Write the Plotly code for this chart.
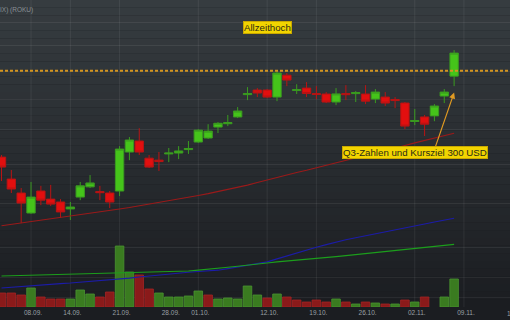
import numpy as np
import pandas as pd
import plotly.graph_objects as go

# ---------------- data ----------------
dates = ["2020-09-02", "2020-09-03", "2020-09-04", "2020-09-08", "2020-09-09", "2020-09-10",
         "2020-09-11", "2020-09-14", "2020-09-15", "2020-09-16", "2020-09-17", "2020-09-18",
         "2020-09-21", "2020-09-22", "2020-09-23", "2020-09-24", "2020-09-25", "2020-09-28",
         "2020-09-29", "2020-09-30", "2020-10-01", "2020-10-02", "2020-10-05", "2020-10-06",
         "2020-10-07", "2020-10-08", "2020-10-09", "2020-10-12", "2020-10-13", "2020-10-14",
         "2020-10-15", "2020-10-16", "2020-10-19", "2020-10-20", "2020-10-21", "2020-10-22",
         "2020-10-23", "2020-10-26", "2020-10-27", "2020-10-28", "2020-10-29", "2020-10-30",
         "2020-11-02", "2020-11-03", "2020-11-04", "2020-11-05", "2020-11-06"]

opens = [163.9, 152.0, 144.9, 135.3, 145.9, 141.9, 140.5, 137.2, 142.9, 148.0, 145.6, 144.9,
         145.9, 166.8, 173.2, 163.3, 162.2, 165.7, 166.2, 168.2, 172.6, 175.0, 181.7, 183.8,
         188.1, 203.1, 206.3, 206.3, 201.4, 217.1, 206.0, 207.7, 203.8, 203.5, 198.0, 203.8,
         203.8, 203.5, 200.0, 201.4, 199.7, 197.3, 185.2, 188.1, 188.8, 202.1, 216.4]
highs = [165.1, 156.8, 147.4, 150.5, 148.5, 149.0, 141.9, 140.5, 150.5, 154.1, 148.5, 145.9,
         170.2, 175.6, 181.0, 165.1, 166.8, 169.1, 170.2, 173.2, 180.4, 183.5, 184.8, 189.4,
         194.6, 208.4, 207.7, 207.0, 220.5, 218.7, 210.5, 212.0, 209.1, 204.9, 207.7, 209.8,
         205.6, 209.8, 207.0, 204.9, 201.4, 198.0, 193.3, 189.4, 196.6, 207.0, 236.6]
lows = [151.0, 144.9, 130.7, 134.9, 139.0, 138.6, 133.0, 132.1, 141.4, 147.4, 141.4, 137.6,
        143.4, 162.2, 165.1, 157.9, 156.3, 161.1, 162.8, 165.7, 172.0, 174.4, 178.0, 182.3,
        187.4, 199.3, 201.4, 200.7, 198.6, 209.1, 203.5, 201.4, 200.0, 197.3, 195.9, 199.3,
        198.0, 196.6, 197.3, 195.3, 193.9, 180.4, 182.9, 176.2, 185.4, 197.3, 209.1]
closes = [158.4, 146.9, 140.0, 142.9, 141.4, 139.5, 135.8, 138.1, 148.5, 150.0, 145.1, 140.5,
          168.5, 173.8, 166.8, 158.4, 161.4, 166.2, 167.4, 168.8, 179.8, 179.2, 184.1, 184.5,
          192.0, 203.8, 204.2, 201.4, 218.7, 213.5, 206.6, 203.9, 203.2, 198.0, 203.6, 203.1,
          204.5, 198.6, 204.9, 197.3, 199.0, 182.3, 185.8, 183.5, 195.3, 204.9, 234.2]
prev_close = 166.0

# volume in millions of shares (Nov 4 missing in the source)
volumes = [4.2, 4.2, 3.6, 5.7, 3.0, 2.4, 2.4, 2.4, 5.1, 3.9, 3.0, 4.5,
           18.3, 10.5, 9.6, 5.4, 4.2, 3.0, 3.0, 3.3, 4.8, 3.6, 2.4, 2.7,
           2.4, 6.3, 3.6, 2.7, 3.9, 3.0, 2.1, 1.5, 2.1, 1.5, 2.4, 1.5,
           0.9, 1.5, 1.2, 0.9, 0.9, 2.1, 1.5, 3.0, None, 3.0, 8.4]

ma_red = [129.5, 130.1, 130.8, 131.4, 132.0, 132.7, 133.3, 133.9, 134.6, 135.2, 135.9, 136.5,
          137.2, 137.9, 138.7, 139.4, 140.2, 140.9, 141.8, 142.8, 143.7, 144.6, 145.6, 146.5,
          147.5, 148.9, 150.2, 151.6, 152.9, 154.2, 155.5, 156.7, 158.0, 159.3, 160.6, 162.0,
          163.4, 164.9, 166.3, 167.7, 169.2, 170.6, 172.1, 173.5, 175.0, 176.4, 177.9]
ma_blue = [104.6, 104.9, 105.1, 105.4, 105.6, 105.9, 106.2, 106.4, 106.7, 106.9, 107.2, 107.4,
           107.8, 108.2, 108.6, 109.0, 109.4, 109.8, 110.1, 110.4, 110.7, 110.9, 111.2, 111.8,
           112.5, 113.1, 113.8, 114.4, 115.6, 116.8, 118.0, 119.1, 120.3, 121.4, 122.5, 123.4,
           124.3, 125.1, 126.0, 126.9, 127.7, 128.6, 129.5, 130.3, 131.2, 132.1, 132.9]
ma_green = [109.0, 109.1, 109.2, 109.3, 109.4, 109.4, 109.5, 109.6, 109.7, 109.8, 109.9, 110.0,
            110.1, 110.1, 110.2, 110.3, 110.4, 110.5, 110.7, 110.9, 111.2, 111.5, 111.9, 112.3,
            112.7, 113.2, 113.6, 114.0, 114.4, 114.7, 115.1, 115.4, 115.8, 116.2, 116.5, 116.9,
            117.3, 117.7, 118.1, 118.6, 119.0, 119.4, 119.8, 120.2, 120.7, 121.1, 121.5]

ath = 220.5  # Allzeithoch

tick_dates = ["2020-09-08", "2020-09-14", "2020-09-21", "2020-09-28", "2020-10-01",
              "2020-10-12", "2020-10-19", "2020-10-26", "2020-11-02", "2020-11-09"]
tick_labels = ["08.09.", "14.09.", "21.09.", "28.09.", "01.10.",
               "12.10.", "19.10.", "26.10.", "02.11.", "09.11."]
grid_dates = ["2020-09-08", "2020-09-14", "2020-09-21", "2020-10-01",
              "2020-10-12", "2020-10-19", "2020-11-02", "2020-11-09"]
price_grid = [120, 140, 160, 180, 200, 220, 240, 260]
vol_grid = [3.0, 9.0]

title_text = "IX) (ROKU)"
ath_label = "Allzeithoch"
q3_label = "Q3-Zahlen und Kursziel 300 USD"
q3_date = "2020-11-02"
arrow_date = "2020-11-06"
arrow_price = 204.5
ath_label_date = "2020-10-12"

# ---------------- figure ----------------
W, H = 510, 320
MB = 13
PH = H - MB
FONT = "Liberation Sans, Arial, sans-serif"
noon = pd.Timedelta(hours=12)
x = pd.to_datetime(dates) + noon

UP_FILL, UP_LINE = "#45c41a", "#3a9a20"
DN_FILL, DN_LINE = "#e20f0f", "#b81414"
ORANGE = "#e09a22"

prevs = [prev_close] + closes[:-1]
vol_fill = ["#3a7b20" if c >= p else "#8a1a1a" for c, p in zip(closes, prevs)]
vol_line = ["#4a9430" if c >= p else "#a42424" for c, p in zip(closes, prevs)]

fig = go.Figure()

fig.add_trace(go.Bar(x=x, y=volumes, marker=dict(color=vol_fill, line=dict(color=vol_line, width=0.8)),
                     xaxis="x", yaxis="y", hoverinfo="skip", showlegend=False))

for vals, col in [(ma_red, "#9a1a1a"), (ma_blue, "#1c1ca8"), (ma_green, "#1c9e1c")]:
    fig.add_trace(go.Scatter(x=x, y=vals, mode="lines", line=dict(color=col, width=1.1),
                             xaxis="x", yaxis="y2", hoverinfo="skip", showlegend=False))

fig.add_trace(go.Candlestick(x=x, open=opens, high=highs, low=lows, close=closes,
                             increasing=dict(fillcolor=UP_FILL, line=dict(color=UP_LINE, width=1)),
                             decreasing=dict(fillcolor=DN_FILL, line=dict(color=DN_LINE, width=1)),
                             whiskerwidth=0, xaxis="x", yaxis="y2", showlegend=False))

# background gradient
shapes = []
top = np.array([54, 60, 64])
bot = np.array([27, 29, 33])
N = 40
for i in range(N):
    t = i / (N - 1)
    c = (top * (1 - t) + bot * t).round().astype(int)
    y1 = 1 - i / N
    y0 = 1 - (i + 1) / N if i < N - 1 else -0.1
    shapes.append(dict(type="rect", xref="paper", yref="paper", x0=0, x1=1, y0=y0, y1=y1,
                       fillcolor=f"rgb({c[0]},{c[1]},{c[2]})", line=dict(width=0), layer="below"))
for d in grid_dates:
    xd = pd.Timestamp(d) + noon
    shapes.append(dict(type="line", xref="x", yref="paper", x0=xd, x1=xd, y0=0, y1=1,
                       line=dict(color="rgba(255,255,255,0.07)", width=1), layer="below"))
shapes.append(dict(type="line", xref="paper", yref="y2", x0=0, x1=1, y0=ath, y1=ath,
                   line=dict(color="#d4951f", width=2, dash="3px,2px"), layer="above"))

annotations = [
    dict(text=title_text, xref="paper", yref="paper", x=0, y=1 - 10 / PH, xanchor="left",
         yanchor="middle", xshift=-2, showarrow=False, font=dict(family=FONT, size=6.5, color="#8b9196")),
    dict(text=ath_label, xref="x", yref="paper", x=pd.Timestamp(ath_label_date) + noon, y=1 - 27.5 / PH,
         xanchor="center", yanchor="middle", showarrow=False, bgcolor="#f2d400", bordercolor="#c9a800",
         borderwidth=1, borderpad=0, font=dict(family=FONT, size=9.7, color="#2b2b14")),
    # arrow only (log axis: annotation position is given in log10 units)
    dict(text="", xref="x", yref="y2", x=pd.Timestamp(arrow_date) + noon, y=np.log10(arrow_price),
         ax=-19, ay=55, showarrow=True, arrowhead=2, arrowsize=1, arrowwidth=1.2, arrowcolor=ORANGE),
    dict(text=q3_label, xref="x", yref="paper", x=pd.Timestamp(q3_date) + noon, y=1 - 152 / PH,
         xanchor="center", yanchor="middle", showarrow=False, bgcolor="#f2d400", bordercolor="#c9a800",
         borderwidth=1, borderpad=0, font=dict(family=FONT, size=9.7, color="#2b2b14")),
    dict(text="16.11.", xref="paper", yref="paper", x=516 / W, y=-6 / PH, xanchor="center",
         yanchor="middle", showarrow=False, font=dict(family=FONT, size=6.5, color="#9aa0a5")),
]

fig.update_layout(
    width=W, height=H,
    margin=dict(l=0, r=0, t=0, b=MB, pad=0),
    paper_bgcolor="#1b1d21", plot_bgcolor="#1b1d21",
    font=dict(family=FONT),
    shapes=shapes, annotations=annotations,
    boxgap=0.15, boxgroupgap=0, bargap=0.13,
    showlegend=False, hovermode=False,
    xaxis=dict(type="date",
               range=[pd.Timestamp("2020-09-02 08:20"), pd.Timestamp("2020-11-16 04:19")],
               rangebreaks=[dict(bounds=["sat", "mon"]), dict(values=["2020-09-07"])],
               tickvals=[pd.Timestamp(d) + noon for d in tick_dates], ticktext=tick_labels,
               showgrid=False, zeroline=False, showline=False, ticks="",
               tickfont=dict(family=FONT, size=6.5, color="#9aa0a5"), ticklabelshift=2,
               rangeslider=dict(visible=False), fixedrange=True),
    yaxis=dict(range=[0, 92.1], tickvals=vol_grid, showticklabels=False, showgrid=True,
               gridcolor="rgba(255,255,255,0.06)", zeroline=False, showline=False, fixedrange=True),
    yaxis2=dict(type="log", range=[np.log10(98.0), np.log10(281.0)], overlaying="y",
                tickvals=price_grid, showticklabels=False, showgrid=True,
                gridcolor="rgba(255,255,255,0.07)", zeroline=False, showline=False, fixedrange=True),
)

fig.write_html("out.html")
